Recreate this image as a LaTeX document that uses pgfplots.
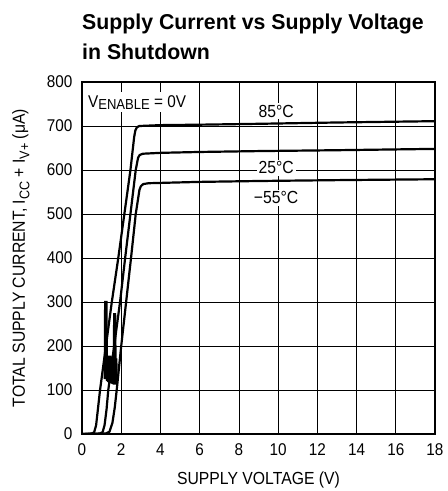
\documentclass[border=0pt]{standalone}
\usepackage{fontspec}
\setmainfont{Liberation Sans}[FakeStretch=0.9]
\newfontfamily\titlefont{Liberation Sans}[FakeStretch=0.99]
\usepackage{pgfplots}
\pgfplotsset{compat=1.18}
\newcommand\sub[1]{\raisebox{-0.25em}{\fontsize{14}{14}\selectfont #1}}
\begin{document}
\begin{tikzpicture}
\useasboundingbox (-82pt,-57pt) rectangle (366pt,434pt);
\node[anchor=base west, inner sep=0pt, font=\titlefont\bfseries\fontsize{21.5}{21.5}\selectfont] at (0pt,404pt) {Supply Current vs Supply Voltage};
\node[anchor=base west, inner sep=0pt, font=\titlefont\bfseries\fontsize{21.5}{21.5}\selectfont] at (0pt,374.5pt) {in Shutdown};
\begin{axis}[
  scale only axis, width=353pt, height=352pt,
  xmin=0, xmax=18, ymin=0, ymax=800,
  xtick={0,2,...,18}, ytick={0,100,...,800},
  grid=major, major grid style={black, line width=0.7pt},
  major tick length=0pt,
  axis line style={line width=1.2pt},
  tick label style={font=\fontsize{17}{17}\selectfont},
  /pgf/number format/assume math mode=true,
  xticklabel style={yshift=-6.5pt},
  yticklabel style={xshift=-6pt},
  xlabel={SUPPLY VOLTAGE (V)},
  xlabel style={at={(axis description cs:0.5,-0.143)}, anchor=base, font=\fontsize{17.5}{17.5}\selectfont},
  ylabel={TOTAL SUPPLY CURRENT, I\sub{CC} + I\sub{V+} (μA)},
  ylabel style={at={(axis description cs:-0.1615,0.5)}, anchor=base, font=\fontsize{17.5}{17.5}\selectfont},
  curve/.style={black, line width=2.2pt, line join=round, no marks},
]
% 85 C
\addplot[curve] coordinates {(0,0) (0.5,1) (0.62,4) (0.72,20) (0.82,60) (0.92,100) (1.22,200) (1.52,300) (1.85,400) (2.16,500) (2.47,600) (2.66,675) (2.72,690) (2.8,697) (2.92,700) (4,702) (6,703) (9,705) (13,708) (18,711)};
% 25 C
\addplot[curve] coordinates {(0,0) (0.9,1) (1.05,4) (1.15,20) (1.25,55) (1.34,100) (1.64,200) (1.94,300) (2.2,400) (2.47,500) (2.74,600) (2.86,628) (2.94,634) (3.1,637) (4,639) (6,641) (9,643) (13,645) (18,648)};
% -55 C
\addplot[curve] coordinates {(0,0) (1.2,1) (1.4,5) (1.55,25) (1.67,60) (1.77,100) (2.0,200) (2.25,300) (2.5,400) (2.74,500) (2.93,555) (3.0,563) (3.12,568) (3.4,570) (6,573) (9,575) (13,577) (18,579)};
% oscillation spikes
\addplot[curve, line width=2.2pt, line join=miter] coordinates {(1.16,125) (1.18,300) (1.25,300) (1.27,120) (1.31,178) (1.34,118) (1.38,178) (1.41,116) (1.45,178) (1.48,115) (1.52,176) (1.55,114) (1.59,176) (1.62,112) (1.64,272) (1.69,272) (1.72,112) (1.75,172) (1.77,118)};
\node[fill=white, inner sep=2pt, font=\fontsize{17.5}{17.5}\selectfont] at (axis cs:9.9,734) {85°C};
\node[fill=white, inner sep=2pt, font=\fontsize{17.5}{17.5}\selectfont] at (axis cs:9.9,605) {25°C};
\node[fill=white, inner sep=2pt, font=\fontsize{17.5}{17.5}\selectfont] at (axis cs:9.9,537) {−55°C};
\node[fill=white, inner sep=3pt, anchor=base west, font=\fontsize{17}{17}\selectfont] at (axis cs:0.15,743) {V\raisebox{-2pt}{\fontsize{14.5}{14.5}\selectfont ENABLE} = 0V};
\end{axis}
\end{tikzpicture}
\end{document}
